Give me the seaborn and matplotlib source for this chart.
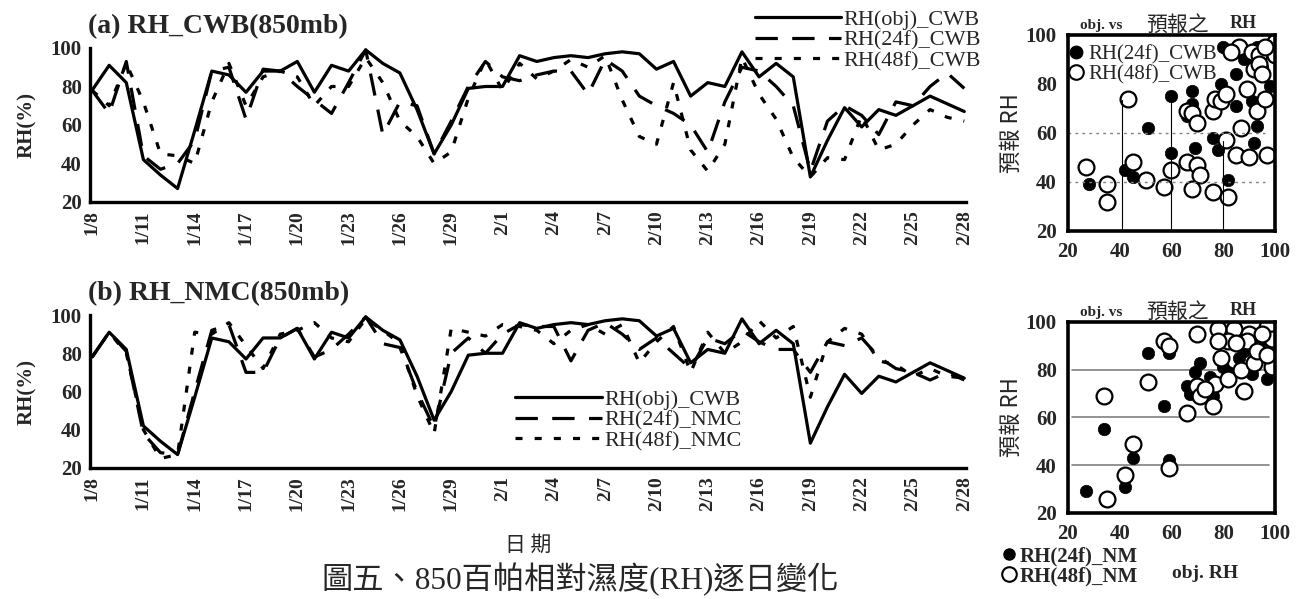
import matplotlib
matplotlib.use("Agg")
import pandas as pd
import matplotlib.pyplot as plt
from matplotlib.lines import Line2D
import seaborn as sns

# daily series, 1/8 .. 2/28 (52 days)
days = list(range(52))
date_labels = ['1/8', '1/11', '1/14', '1/17', '1/20', '1/23', '1/26', '1/29', '2/1',
               '2/4', '2/7', '2/10', '2/13', '2/16', '2/19', '2/22', '2/25', '2/28']

obs = [78, 91, 82, 42, 34, 27, 57, 88, 86, 77, 88, 88, 93, 77, 91, 88, 99, 92, 87, 68,
       45, 60, 79, 80, 80, 96, 93, 95, 96, 95, 97, 98, 97, 89, 93, 75, 82, 80, 98, 85,
       92, 85, 33, 52, 69, 59, 68, 65, 70, 75, 71, 67]
cwb_24f = [78, 66, 93, 44, 37, 40, 52, 88, 90, 63, 89, 88, 80, 73, 66, 82, 99, 55, 72, 70,
           45, 62, 80, 93, 85, 83, 86, 88, 88, 76, 94, 88, 75, 70, 66, 60, 46, 72, 90, 88,
           80, 70, 36, 62, 70, 65, 55, 72, 70, 80, 87, 79]
cwb_48f = [78, 70, 92, 72, 45, 44, 40, 72, 92, 70, 85, 88, 85, 70, 80, 80, 95, 82, 62, 54,
           40, 46, 74, 94, 78, 92, 84, 88, 94, 90, 96, 73, 54, 50, 82, 47, 36, 50, 95, 76,
           63, 43, 33, 43, 42, 65, 47, 50, 60, 68, 64, 62]
nmc_24f = [78, 91, 81, 38, 28, 27, 60, 92, 95, 70, 70, 88, 93, 78, 82, 90, 99, 85, 83, 60,
           41, 80, 88, 80, 90, 95, 94, 94, 76, 92, 96, 90, 82, 88, 80, 72, 88, 85, 92, 86,
           82, 82, 70, 86, 84, 88, 78, 72, 70, 66, 70, 66]
nmc_48f = [78, 91, 80, 40, 25, 27, 91, 90, 96, 84, 72, 90, 92, 96, 88, 86, 98, 92, 85, 58,
           38, 93, 91, 89, 95, 94, 92, 85, 92, 95, 90, 95, 75, 86, 94, 70, 91, 80, 86, 97,
           88, 94, 57, 86, 93, 90, 76, 74, 68, 72, 68, 67]

# scatter: observed RH vs forecast RH
cwb24_obj = [28, 42, 45, 51, 60, 60, 68, 68, 66, 69, 76, 78, 79, 80, 82, 85, 85, 91, 92, 93,
             98, 95, 88, 93]
cwb24_fc = [39, 45, 42, 62, 75, 52, 77, 72, 67, 54, 58, 53, 80, 95, 41, 84, 71, 73, 56, 63,
            79, 87, 90, 95]
cwb48_obj = [27, 35, 35, 43, 45, 50, 57, 60, 66, 68, 70, 66, 70, 71, 68, 76, 82, 76, 77, 79,
             81, 81, 85, 87, 90, 97, 89, 93, 96, 92, 86, 91, 94, 100, 100, 96, 94, 95, 83]
cwb48_fc = [46, 39, 32, 74, 48, 41, 38, 45, 69, 68, 64, 48, 47, 43, 37, 36, 34, 69, 74, 73,
            76, 57, 51, 62, 50, 51, 78, 69, 74, 86, 95, 93, 92, 92, 97, 95, 88, 84, 93]
nmc24_obj = [27, 34, 42, 45, 51, 57, 59, 59, 66, 69, 71, 67, 76, 75, 80, 86, 88, 91, 97, 87,
             82, 93, 95]
nmc24_fc = [29, 55, 31, 43, 87, 65, 87, 42, 73, 79, 83, 70, 69, 77, 81, 85, 88, 78, 76, 71,
            79, 84, 92]
nmc48_obj = [34, 35, 42, 45, 51, 57, 59, 59, 66, 70, 70, 71, 76, 77, 79, 82, 78, 84, 82, 78,
             90, 89, 87, 88, 92, 93, 97, 99, 99, 97, 95, 85, 73]
nmc48_fc = [69, 26, 36, 49, 75, 92, 90, 39, 62, 95, 73, 69, 65, 74, 85, 76, 97, 97, 92, 92,
            95, 92, 80, 71, 83, 88, 98, 93, 81, 86, 95, 91, 72]

SERIF = ['Liberation Serif', 'Noto Sans CJK TC']
CJK = ['Noto Sans CJK TC', 'DejaVu Sans']

sns.set_style("white")
plt.rcParams['font.family'] = SERIF

fig = plt.figure(figsize=(13.01, 5.99), dpi=100)


def line_panel(rect, fc24, fc48, title):
    ax = fig.add_axes(rect)
    df = pd.DataFrame({'day': days * 3,
                       'rh': obs + fc24 + fc48,
                       'series': ['obj'] * 52 + ['24f'] * 52 + ['48f'] * 52})
    sns.lineplot(data=df, x='day', y='rh', style='series', color='black', linewidth=2.3,
                 dashes={'obj': '', '24f': (7, 4.5), '48f': (2.2, 3.8)}, legend=False, ax=ax)
    ax.set_xlim(-0.12, 51.1)
    ax.set_ylim(20, 100)
    ax.set_xticks(days[::3])
    ax.set_xticklabels(date_labels, rotation=90, fontsize=14, fontweight='bold')
    ax.set_xticks(days, minor=True)
    ax.set_yticks([20, 40, 60, 80, 100])
    ax.set_yticklabels(['20', '40', '60', '80', '100'], fontsize=15, fontweight='bold')
    ax.tick_params(axis='both', which='both', direction='in', length=5, width=2, pad=6)
    ax.set_xlabel('')
    ax.set_ylabel('RH(%)', fontsize=15, fontweight='bold', labelpad=10)
    for s in ['top', 'right']:
        ax.spines[s].set_visible(False)
    for s in ['left', 'bottom']:
        ax.spines[s].set_linewidth(2.4)
        ax.spines[s].set_color('black')
    ax.text(-0.002, 1.06, title, transform=ax.transAxes, fontsize=20, fontweight='bold',
            ha='left', va='bottom')
    return ax


def handles(lab):
    return [Line2D([], [], color='black', lw=2.3, label=lab[0]),
            Line2D([], [], color='black', lw=2.3, dashes=(7, 4.5), label=lab[1]),
            Line2D([], [], color='black', lw=2.3, dashes=(2.2, 3.8), label=lab[2])]


ax_a = line_panel([0.0692, 0.6628, 0.6733, 0.2571], cwb_24f, cwb_48f, '(a) RH_CWB(850mb)')
ax_a.legend(handles=handles(['RH(obj)_CWB', 'RH(24f)_CWB', 'RH(48f)_CWB']),
            loc='upper left', bbox_to_anchor=(0.568, 1.01), bbox_transform=fig.transFigure,
            frameon=False, fontsize=16, handlelength=3.9, handletextpad=0.1,
            labelspacing=0.0, borderpad=0.2)

ax_b = line_panel([0.0692, 0.2187, 0.6733, 0.2554], nmc_24f, nmc_48f, '(b) RH_NMC(850mb)')
ax_b.legend(handles=handles(['RH(obj)_CWB', 'RH(24f)_NMC', 'RH(48f)_NMC']),
            loc='upper left', bbox_to_anchor=(0.384, 0.376), bbox_transform=fig.transFigure,
            frameon=False, fontsize=16, handlelength=3.9, handletextpad=0.1,
            labelspacing=0.0, borderpad=0.2)


def scatter_panel(rect, x24, y24, x48, y48):
    ax = fig.add_axes(rect)
    sns.scatterplot(x=x24, y=y24, color='black', s=80, edgecolor='black', linewidth=0.5, ax=ax)
    sns.scatterplot(x=x48, y=y48, facecolor='white', s=130, edgecolor='black', linewidth=1.6,
                    ax=ax)
    ax.set_xlim(20, 100)
    ax.set_ylim(20, 100)
    ax.set_xticks([20, 40, 60, 80, 100])
    ax.set_yticks([20, 40, 60, 80, 100])
    ax.set_xticklabels(['20', '40', '60', '80', '100'], fontsize=15, fontweight='bold')
    ax.set_yticklabels(['20', '40', '60', '80', '100'], fontsize=15, fontweight='bold')
    ax.tick_params(axis='both', direction='in', length=4, width=2, pad=8)
    for s in ax.spines.values():
        s.set_linewidth(2.6)
        s.set_color('black')
    ax.set_ylabel('預報 RH', fontsize=16, family=CJK, labelpad=2)
    ax.set_xlabel('')
    ax.text(0.265, 1.015, 'obj. vs', transform=ax.transAxes, fontsize=11, fontweight='bold',
            ha='right', va='bottom')
    ax.text(0.53, 0.995, '預報之', transform=ax.transAxes, fontsize=15, family=CJK,
            ha='center', va='bottom')
    ax.text(0.845, 1.015, 'RH', transform=ax.transAxes, fontsize=13, fontweight='bold',
            ha='center', va='bottom')
    return ax


sc_a = scatter_panel([0.8209, 0.6144, 0.1591, 0.3272], cwb24_obj, cwb24_fc, cwb48_obj, cwb48_fc)
sc_a.axhline(60, color='gray', lw=1, ls=(0, (2, 3)), xmax=0.95)
sc_a.axhline(40, color='gray', lw=1, ls=(0, (2, 3)), xmax=0.95)
sc_a.axvline(41, ymax=0.67, color='black', lw=0.8)
sc_a.axvline(60, ymax=0.68, color='black', lw=0.8)
sc_a.axvline(80, ymax=0.46, color='black', lw=0.8)
sc_a.legend(handles=[Line2D([], [], ls='', marker='o', ms=9, mfc='black', mec='black',
                            label='RH(24f)_CWB'),
                     Line2D([], [], ls='', marker='o', ms=10.5, mfc='white', mec='black',
                            mew=1.5, label='RH(48f)_CWB')],
            loc='upper left', bbox_to_anchor=(0.822, 0.925), bbox_transform=fig.transFigure,
            frameon=False, fontsize=15, handlelength=0.6, handletextpad=0.3,
            labelspacing=0.0, borderpad=0.0, borderaxespad=0)

sc_b = scatter_panel([0.8209, 0.1436, 0.1591, 0.3189], nmc24_obj, nmc24_fc, nmc48_obj, nmc48_fc)
for yv in [40, 60, 80]:
    sc_b.axhline(yv, color='gray', lw=1.2, xmin=0.02, xmax=0.97, zorder=0)
sc_b.legend(handles=[Line2D([], [], ls='', marker='o', ms=8, mfc='black', mec='black',
                            label='RH(24f)_NM'),
                     Line2D([], [], ls='', marker='o', ms=10.5, mfc='white', mec='black',
                            mew=1.5, label='RH(48f)_NM')],
            loc='upper left', bbox_to_anchor=(0.771, 0.088), bbox_transform=fig.transFigure,
            frameon=False, prop={'size': 15, 'weight': 'bold'}, handlelength=0.6,
            handletextpad=0.2, labelspacing=0.0, borderpad=0.0, borderaxespad=0)
fig.text(0.926, 0.043, 'obj. RH', fontsize=14, fontweight='bold', ha='center', va='center')

fig.text(0.406, 0.09, '日 期', fontsize=15, family=CJK, ha='center', va='center')
fig.text(0.446, 0.032, '圖五、850百帕相對濕度(RH)逐日變化', fontsize=22.5, family=SERIF,
         ha='center', va='center')

fig.savefig('out.png', dpi=100, facecolor='white')
